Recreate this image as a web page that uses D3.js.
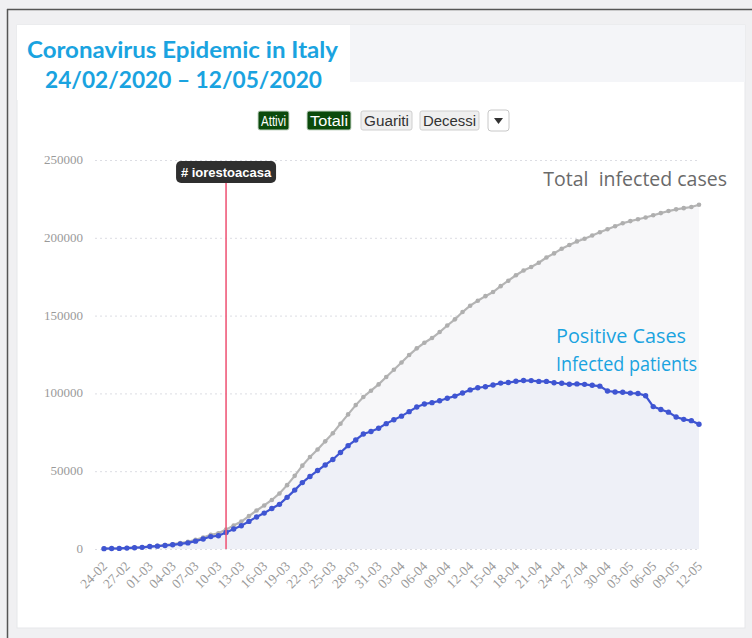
<!DOCTYPE html>
<html><head><meta charset="utf-8">
<script src="https://cdn.jsdelivr.net/npm/d3@7"></script>
<style>
html,body{margin:0;padding:0;background:#f0f0f2;}
svg{display:block;}
</style></head>
<body>
<svg id="chart" width="752" height="638"></svg>
<script>
// ---- data ----
const dates = ["24-02","25-02","26-02","27-02","28-02","29-02","01-03","02-03","03-03","04-03","05-03","06-03","07-03","08-03","09-03","10-03","11-03","12-03","13-03","14-03","15-03","16-03","17-03","18-03","19-03","20-03","21-03","22-03","23-03","24-03","25-03","26-03","27-03","28-03","29-03","30-03","31-03","01-04","02-04","03-04","04-04","05-04","06-04","07-04","08-04","09-04","10-04","11-04","12-04","13-04","14-04","15-04","16-04","17-04","18-04","19-04","20-04","21-04","22-04","23-04","24-04","25-04","26-04","27-04","28-04","29-04","30-04","01-05","02-05","03-05","04-05","05-05","06-05","07-05","08-05","09-05","10-05","11-05","12-05"];
const totalCases = [229,322,400,650,888,1128,1694,2036,2502,3089,3858,4636,5883,7375,9172,10149,12462,15113,17660,21157,24747,27980,31506,35713,41035,47021,53578,59138,63927,69176,74386,80539,86498,92472,97689,101739,105792,110574,115242,119827,124632,128948,132547,135586,139422,143626,147577,152271,156363,159516,162488,165155,168941,172434,175925,178972,181228,183957,187327,189973,192994,195351,197675,199414,201505,203591,205463,207428,209328,210717,211938,213013,214457,215858,217185,218268,219070,219814,221216];
const activeCases = [221,311,385,588,821,1049,1577,1835,2263,2706,3296,3916,5061,6387,7985,8514,10590,12839,14955,17750,20603,23073,26062,28710,33190,37860,42681,46638,50418,54030,57521,62013,66414,70065,73880,75528,77635,80572,83049,85388,88274,91246,93187,94067,95262,96877,98273,100269,102253,103616,104291,105418,106607,106962,107771,108257,108237,107709,107699,106848,106527,105847,106103,105813,105205,104657,101551,100943,100704,100179,99980,98467,91528,89624,87961,84842,83324,82488,80200];
const yTicks = [0,50000,100000,150000,200000,250000];
const xTickLabels = dates.filter((d,i)=>i%3===0);
const buttons = ["Attivi","Totali","Guariti","Decessi"];
const activeButtons = ["Attivi","Totali"];
const annotationDate = "11-03";
const annotationText = "# iorestoacasa";
const titleLines = ["Coronavirus Epidemic in Italy","24/02/2020 \u2013 12/05/2020"];
const positiveLabelLines = ["Positive Cases","Infected patients"];

// ---- drawing ----
const svg = d3.select("#chart");

// frame
svg.append("rect").attr("x",0).attr("y",0).attr("width",752).attr("height",638).attr("fill","#f0f0f2");
svg.append("line").attr("x1",7).attr("y1",9.5).attr("x2",752).attr("y2",9.5).attr("stroke","#555").attr("stroke-width",1.5);
svg.append("line").attr("x1",7.5).attr("y1",9).attr("x2",7.5).attr("y2",638).attr("stroke","#555").attr("stroke-width",1.5);
svg.append("rect").attr("x",17).attr("y",25).attr("width",728).attr("height",603).attr("fill","#ffffff").attr("stroke","#e6e7ea");
svg.append("rect").attr("x",17).attr("y",25).attr("width",728).attr("height",57).attr("fill","#f4f5f8");
svg.append("rect").attr("x",17).attr("y",25).attr("width",333).attr("height",75).attr("fill","#ffffff");

// title
const titleGeom = [[27,311,58],[45,277,88]];
titleLines.forEach((t,i)=>{
  const [tx,tw,ty] = titleGeom[i];
  svg.append("text").attr("x",tx).attr("y",ty)
    .attr("font-family","Lato, 'Open Sans', sans-serif").attr("font-weight",700)
    .attr("font-size",23).attr("fill","#1aa3e0")
    .attr("textLength",tw).attr("lengthAdjust","spacingAndGlyphs").text(t);
});

// buttons
const btnGeom = {"Attivi":[258,31],"Totali":[307,44],"Guariti":[361,51],"Decessi":[420,59]};
buttons.forEach(b=>{
  const [bx,bw] = btnGeom[b];
  const act = activeButtons.includes(b);
  const g = svg.append("g");
  g.append("rect").attr("x",bx).attr("y",111).attr("width",bw).attr("height",19).attr("rx",2)
    .attr("fill",act?"#0b4a0b":"#efefef").attr("stroke",act?"#c9d8c9":"#cfcfcf");
  g.append("text").attr("x",bx+3).attr("y",125.5)
    .attr("font-family","'Liberation Sans', Arial, sans-serif").attr("font-size",14)
    .attr("textLength",bw-6).attr("lengthAdjust","spacingAndGlyphs")
    .attr("fill",act?"#ffffff":"#333").text(b);
});
svg.append("rect").attr("x",488).attr("y",110).attr("width",21).attr("height",21).attr("rx",3)
  .attr("fill","#fff").attr("stroke","#c8c8c8");
svg.append("path").attr("d","M494,118 L503,118 L498.5,124 Z").attr("fill","#333");

// scales
const x = d3.scalePoint().domain(dates).range([104,699]);
const y = d3.scaleLinear().domain([0,250000]).range([549,160]);

// grid
svg.append("g").selectAll("line").data(yTicks).join("line")
  .attr("x1",95).attr("x2",700).attr("y1",d=>y(d)+0.5).attr("y2",d=>y(d)+0.5)
  .attr("stroke","#dcdde3").attr("stroke-dasharray","2,3");
svg.append("g").selectAll("text").data(yTicks).join("text")
  .attr("x",83).attr("y",d=>y(d)+4).attr("text-anchor","end")
  .attr("font-family","'Liberation Serif', 'DejaVu Serif', serif").attr("font-size",13)
  .attr("fill","#9a9a9a").text(d=>d);

// x labels
svg.append("g").selectAll("text").data(xTickLabels).join("text")
  .attr("transform",d=>`translate(${x(d)+4},${567}) rotate(-45)`)
  .attr("text-anchor","end")
  .attr("font-family","'Liberation Serif', 'DejaVu Serif', serif").attr("font-size",13.5)
  .attr("fill","#9a9a9a").text(d=>d);

// areas
const areaT = d3.area().x((d,i)=>x(dates[i])).y0(y(0)).y1(d=>y(d));
svg.append("path").datum(totalCases).attr("d",areaT).attr("fill","#f7f7f9");
svg.append("path").datum(activeCases).attr("d",areaT).attr("fill","#eef0f7");

// lines
const line = d3.line().x((d,i)=>x(dates[i])).y(d=>y(d));
svg.append("path").datum(totalCases).attr("d",line).attr("fill","none").attr("stroke","#b5b5b5").attr("stroke-width",2.2);
svg.append("g").selectAll("circle").data(totalCases).join("circle")
  .attr("cx",(d,i)=>x(dates[i])).attr("cy",d=>y(d)).attr("r",2.3).attr("fill","#afafaf");
svg.append("path").datum(activeCases).attr("d",line).attr("fill","none").attr("stroke","#3f55d2").attr("stroke-width",2.2);
svg.append("g").selectAll("circle").data(activeCases).join("circle")
  .attr("cx",(d,i)=>x(dates[i])).attr("cy",d=>y(d)).attr("r",2.7).attr("fill","#3f55d2");

// annotation
const ax = x(annotationDate);
svg.append("line").attr("x1",ax).attr("x2",ax).attr("y1",180).attr("y2",y(0))
  .attr("stroke","#ef5a7a").attr("stroke-width",1.6);
svg.append("rect").attr("x",ax-50).attr("y",161).attr("width",100).attr("height",22).attr("rx",5).attr("fill","#2f2f2f");
svg.append("text").attr("x",ax).attr("y",177).attr("text-anchor","middle")
  .attr("font-family","'Liberation Sans', Arial, sans-serif").attr("font-weight",700).attr("font-size",13)
  .attr("fill","#ffffff").text(annotationText);

// series labels
svg.append("text").attr("x",727).attr("y",186).attr("text-anchor","end")
  .attr("font-family","'Open Sans', sans-serif").attr("font-size",19.5).attr("fill","#6a6a6a")
  .attr("xml:space","preserve").text("Total  infected cases");
const plGeom = [[556,130,343],[556,141,371]];
positiveLabelLines.forEach((t,i)=>{
  const [px,pw,py] = plGeom[i];
  svg.append("text").attr("x",px).attr("y",py)
    .attr("font-family","'Open Sans', sans-serif").attr("font-size",19.5).attr("fill","#1aa3e0")
    .attr("textLength",pw).attr("lengthAdjust","spacingAndGlyphs").text(t);
});
</script>
</body></html>
